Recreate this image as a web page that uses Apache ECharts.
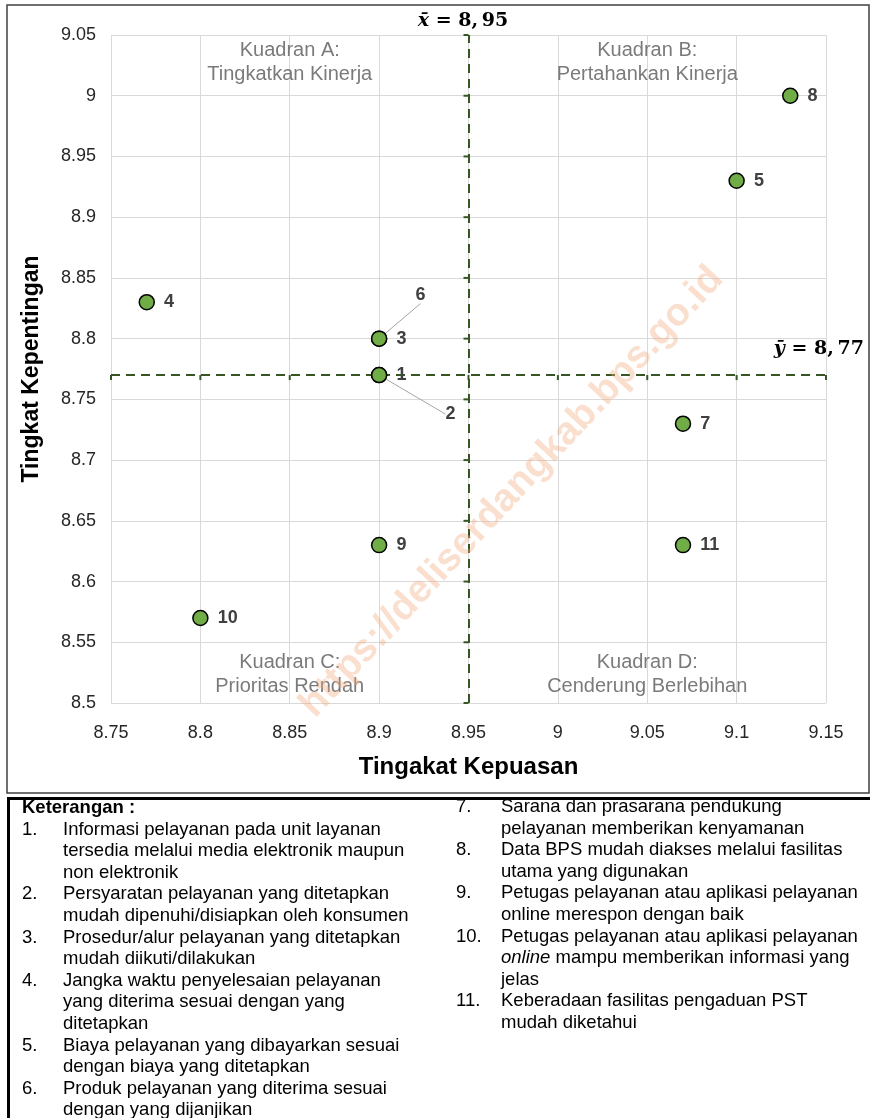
<!DOCTYPE html>
<html><head><meta charset="utf-8">
<script src="https://cdn.jsdelivr.net/npm/echarts@6/dist/echarts.min.js"></script>
<style>html,body{margin:0;padding:0;background:#fff}#c{width:870px;height:1118px}</style>
</head><body><div id="c"></div>
<script>
// ---- data ----
const itemIds    = ['1','2','3','4','5','6','7','8','9','10','11'];
const kepuasan   = [8.90, 8.90, 8.90, 8.77, 9.10, 8.90, 9.07, 9.13, 8.90, 8.80, 9.07];
const kepentingan= [8.77, 8.77, 8.80, 8.83, 8.93, 8.80, 8.73, 9.00, 8.63, 8.57, 8.63];
const meanX = 8.95;
const meanY = 8.77;
const xTickValues = [8.75, 8.8, 8.85, 8.9, 8.95, 9, 9.05, 9.1, 9.15];
const yTickValues = [8.5, 8.55, 8.6, 8.65, 8.7, 8.75, 8.8, 8.85, 8.9, 8.95, 9, 9.05];
const quadrantX = [8.85, 9.05, 8.85, 9.05];
const quadrantY = [9.05, 9.05, 8.5, 8.5];
const quadrantText = ['Kuadran A:\nTingkatkan Kinerja', 'Kuadran B:\nPertahankan Kinerja',
                      'Kuadran C:\nPrioritas Rendah', 'Kuadran D:\nCenderung Berlebihan'];
const legendLeft = [
  ['Keterangan :'],
  ['1.', 'Informasi pelayanan pada unit layanan'], ['', 'tersedia melalui media elektronik maupun'], ['', 'non elektronik'],
  ['2.', 'Persyaratan pelayanan yang ditetapkan'], ['', 'mudah dipenuhi/disiapkan oleh konsumen'],
  ['3.', 'Prosedur/alur pelayanan yang ditetapkan'], ['', 'mudah diikuti/dilakukan'],
  ['4.', 'Jangka waktu penyelesaian pelayanan'], ['', 'yang diterima sesuai dengan yang'], ['', 'ditetapkan'],
  ['5.', 'Biaya pelayanan yang dibayarkan sesuai'], ['', 'dengan biaya yang ditetapkan'],
  ['6.', 'Produk pelayanan yang diterima sesuai'], ['', 'dengan yang dijanjikan']
];
const legendRight = [
  ['7.', 'Sarana dan prasarana pendukung'], ['', 'pelayanan memberikan kenyamanan'],
  ['8.', 'Data BPS mudah diakses melalui fasilitas'], ['', 'utama yang digunakan'],
  ['9.', 'Petugas pelayanan atau aplikasi pelayanan'], ['', 'online merespon dengan baik'],
  ['10.', 'Petugas pelayanan atau aplikasi pelayanan'], ['', '{i|online} mampu memberikan informasi yang'], ['', 'jelas'],
  ['11.', 'Keberadaan fasilitas pengaduan PST'], ['', 'mudah diketahui']
];

// ---- build ----
const FONT = '"Liberation Sans", Arial, sans-serif';
const GREEN = '#375623';
const LFS = 18.5;
const points = itemIds.map((id, i) => {
  const o = {value: [kepuasan[i], kepentingan[i]], name: id};
  if (id === '6' || id === '2') o.labelLine = {show: true, lineStyle: {color: '#a6a6a6', width: 1}};
  return o;
});
const tickMarks = [];
yTickValues.forEach(v => tickMarks.push([meanX, v, 0]));
xTickValues.forEach(v => tickMarks.push([v, meanY, 1]));

const mathRich = {
  i: {fontFamily: '"DejaVu Serif", serif', fontStyle: 'italic', fontWeight: 'bold', fontSize: 19, fill: '#000'},
  n: {fontFamily: '"DejaVu Serif", serif', fontWeight: 'bold', fontSize: 19, fill: '#000'}
};
const graphics = [
  {type: 'rect', shape: {x: 7, y: 5, width: 862, height: 788}, style: {fill: 'none', stroke: '#404040', lineWidth: 1.5}, z: 1},
  {type: 'line', shape: {x1: 7, y1: 798.5, x2: 870, y2: 798.5}, style: {stroke: '#000', lineWidth: 3}},
  {type: 'line', shape: {x1: 8.5, y1: 797, x2: 8.5, y2: 1118}, style: {stroke: '#000', lineWidth: 3}},
  {type: 'text', x: 463, y: 21, style: {text: '{i|x̄}{n| = 8,\u200995}', rich: mathRich, textAlign: 'center', textVerticalAlign: 'middle'}},
  {type: 'text', x: 864, y: 349, style: {text: '{i|ȳ}{n| = 8,\u200977}', rich: mathRich, textAlign: 'right', textVerticalAlign: 'middle'}},
  {type: 'text', x: 512, y: 492, rotation: 0.82, z: 50,
   style: {text: 'https://deliserdangkab.bps.go.id', font: 'bold 39px "Liberation Sans", Arial, sans-serif', fill: 'rgba(242,172,125,0.38)', textAlign: 'center', textVerticalAlign: 'middle'}}
];
const PITCH = 21.6;
legendLeft.forEach((row, k) => {
  const y = 808 + k * PITCH;
  if (k === 0) {
    graphics.push({type: 'text', x: 22, y, style: {text: row[0], font: 'bold ' + LFS + 'px ' + FONT, fill: '#000', textVerticalAlign: 'middle'}});
  } else {
    if (row[0]) graphics.push({type: 'text', x: 22, y, style: {text: row[0], font: LFS + 'px ' + FONT, fill: '#000', textVerticalAlign: 'middle'}});
    graphics.push({type: 'text', x: 63, y, style: {text: row[1], font: LFS + 'px ' + FONT, fill: '#000', textVerticalAlign: 'middle'}});
  }
});
legendRight.forEach((row, k) => {
  const y = 807 + k * PITCH;
  if (row[0]) graphics.push({type: 'text', x: 456, y, style: {text: row[0], font: LFS + 'px ' + FONT, fill: '#000', textVerticalAlign: 'middle'}});
  graphics.push({type: 'text', x: 501, y, style: {text: row[1], font: LFS + 'px ' + FONT, fill: '#000', textVerticalAlign: 'middle',
    rich: {i: {fontStyle: 'italic', fontSize: LFS, fontFamily: FONT, fill: '#000'}}}});
});

const fmt = v => String(+(+v).toFixed(2));
const chart = echarts.init(document.getElementById('c'), null, {renderer: 'canvas'});
chart.setOption({
  animation: false,
  backgroundColor: '#fff',
  grid: {left: 111, right: 44, top: 35, bottom: 415, containLabel: false},
  xAxis: {
    type: 'value', min: 8.75, max: 9.15, interval: 0.05,
    name: 'Tingakat Kepuasan', nameLocation: 'middle', nameGap: 52,
    nameTextStyle: {fontFamily: FONT, fontSize: 24, fontWeight: 'bold', color: '#000'},
    axisLine: {show: false}, axisTick: {show: false},
    axisLabel: {formatter: fmt, fontFamily: FONT, fontSize: 18, color: '#262626', margin: 21},
    splitLine: {show: true, lineStyle: {color: '#d9d9d9', width: 1}}
  },
  yAxis: {
    type: 'value', min: 8.5, max: 9.05, interval: 0.05,
    name: 'Tingkat Kepentingan', nameLocation: 'middle', nameGap: 68, nameRotate: 90,
    nameTextStyle: {fontFamily: FONT, fontSize: 23, fontWeight: 'bold', color: '#000'},
    axisLine: {show: false}, axisTick: {show: false},
    axisLabel: {formatter: fmt, fontFamily: FONT, fontSize: 18, color: '#262626', margin: 15},
    splitLine: {show: true, lineStyle: {color: '#d9d9d9', width: 1}}
  },
  graphic: graphics,
  series: [
    {
      type: 'scatter', symbolSize: 0, silent: true, z: 3,
      data: quadrantText.map((t, i) => ({value: [quadrantX[i], quadrantY[i]], name: t,
        label: {position: i < 2 ? 'bottom' : 'top', distance: i < 2 ? 3 : 5}})),
      label: {show: true, formatter: p => p.name, fontFamily: FONT, fontSize: 20, color: '#595959', lineHeight: 24, align: 'center'}
    },
    {
      type: 'custom', silent: true, z: 4,
      data: tickMarks,
      renderItem: (params, api) => {
        const p = api.coord([api.value(0), api.value(1)]);
        const vert = api.value(2) === 0;
        return {type: 'line', shape: {x1: p[0], y1: p[1], x2: vert ? p[0] - 5 : p[0], y2: vert ? p[1] : p[1] + 5},
          style: {stroke: GREEN, lineWidth: 2}};
      }
    },
    {
      type: 'scatter', z: 10,
      data: points,
      symbol: 'circle', symbolSize: 15,
      itemStyle: {color: '#70AD47', borderColor: '#000', borderWidth: 1.5, opacity: 1},
      label: {show: true, position: 'right', distance: 9, formatter: p => p.name,
        fontFamily: FONT, fontSize: 18, fontWeight: 'bold', color: '#404040'},
      labelLayout: p => {
        if (p.dataIndex === 5) return {dx: 19, dy: -44};
        if (p.dataIndex === 1) return {dx: 49, dy: 39};
        return {};
      },
      markLine: {
        silent: true, symbol: 'none', label: {show: false},
        lineStyle: {color: GREEN, type: [9, 6], width: 2},
        data: [{xAxis: meanX}, {yAxis: meanY}]
      }
    }
  ]
});
</script>
</body></html>
